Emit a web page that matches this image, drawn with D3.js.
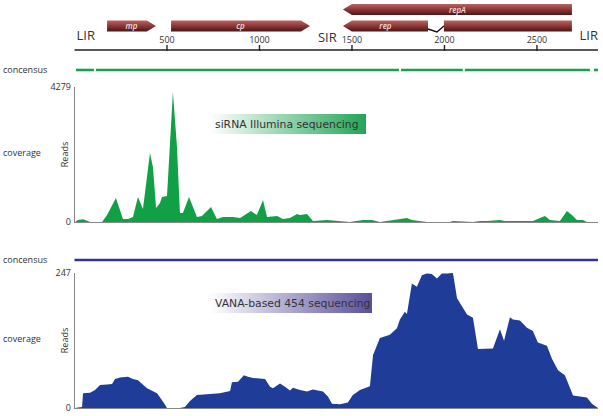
<!DOCTYPE html>
<html><head><meta charset="utf-8">
<script src="https://cdn.jsdelivr.net/npm/d3@7"></script>
<style>body{margin:0;background:#fff}svg{display:block}</style>
</head><body>
<svg id="c" width="603" height="416"></svg>
<script>
// ---- data ----
const genomeLength = 2830;
const genomeTicks = [500, 1000, 1500, 2000, 2500];
const regionLabels = [{name:"LIR", pos:0, anchor:"start"}, {name:"SIR", pos:1305, anchor:"start"}, {name:"LIR", pos:2830, anchor:"end"}];
const genes = [
  {name:"mp",   row:1, strand:1,  exons:[[176,440]]},
  {name:"cp",   row:1, strand:1,  exons:[[522,1273]]},
  {name:"repA", row:0, strand:-1, exons:[[1451,2689]]},
  {name:"rep",  row:1, strand:-1, exons:[[1451,1911],[1997,2689]]}
];
const siConsensus = [[8,105],[116,1754],[1765,2099],[2110,2786],[2808,2830]];
const vanaConsensus = [[0,2830]];
const siMax = 4279, vanaMax = 247;
const siPos   = [3,19,46,68,84,149,176,224,262,289,316,343,370,408,424,441,462,473,500,505,532,554,570,586,619,662,689,738,770,803,857,895,954,986,1019,1041,1095,1127,1165,1203,1219,1257,1289,1365,1489,1559,1608,1651,1797,1824,1905,2030,2046,2154,2192,2230,2300,2327,2478,2543,2570,2624,2662,2689,2716,2749,2770,2830];
const siReads = [0,63,86,41,0,0,222,761,95,95,159,793,412,2187,1744,444,602,793,824,1331,4121,2378,285,285,793,159,190,476,95,159,159,127,349,222,697,159,190,95,127,254,222,254,32,63,0,63,63,0,127,63,0,0,32,0,32,32,63,32,32,190,63,32,349,222,63,63,0,0];
const vanaPos   = [3,19,41,46,84,111,138,176,203,219,246,289,316,343,392,446,478,500,570,597,624,662,786,841,851,884,916,938,965,1030,1057,1073,1111,1138,1165,1181,1219,1257,1289,1343,1370,1392,1435,1478,1505,1543,1597,1614,1651,1705,1743,1759,1786,1797,1824,1851,1878,1905,1932,1959,1986,2014,2046,2068,2122,2154,2181,2262,2300,2322,2354,2370,2408,2446,2478,2505,2554,2581,2614,2651,2695,2770,2797,2830];
const vanaReads = [0,1,2,27,28,33,42,43,44,53,56,57,53,51,36,27,12,0,0,2,13,24,27,31,47,48,60,57,55,53,39,36,45,39,32,37,33,30,34,30,21,8,7,10,24,33,40,97,128,134,146,162,176,172,228,222,243,246,245,237,246,246,247,201,171,165,108,109,144,123,166,162,160,147,141,120,114,90,69,60,23,19,8,0];

// ---- drawing ----
const svg = d3.select("#c");
const font = "'Open Sans', 'DejaVu Sans', sans-serif";
const x = d3.scaleLinear().domain([0, genomeLength]).range([74.5, 598]);

const defs = svg.append("defs");
const gg = defs.append("linearGradient").attr("id","geneGrad").attr("x1",0).attr("y1",0).attr("x2",0).attr("y2",1);
gg.append("stop").attr("offset","0%").attr("stop-color","#b96464");
gg.append("stop").attr("offset","45%").attr("stop-color","#933a3a");
gg.append("stop").attr("offset","100%").attr("stop-color","#4a1515");
const lg1 = defs.append("linearGradient").attr("id","siBox");
lg1.append("stop").attr("offset","0%").attr("stop-color","#ffffff");
lg1.append("stop").attr("offset","100%").attr("stop-color","#22a557");
const lg2 = defs.append("linearGradient").attr("id","vanaBox");
lg2.append("stop").attr("offset","0%").attr("stop-color","#ffffff");
lg2.append("stop").attr("offset","100%").attr("stop-color","#5a4f9c");

// genome axis
const axisY = 50;
svg.append("line").attr("x1", x(0)).attr("x2", x(genomeLength)).attr("y1", axisY).attr("y2", axisY)
  .attr("stroke","#222").attr("stroke-width",1.6);
svg.selectAll(".gt").data(genomeTicks).join("line")
  .attr("x1", d=>x(d)).attr("x2", d=>x(d)).attr("y1", axisY-5).attr("y2", axisY+1)
  .attr("stroke","#222").attr("stroke-width",1.4);
svg.selectAll(".gtl").data(genomeTicks).join("text")
  .attr("x", d=>x(d)).attr("y", axisY-7).attr("text-anchor","middle")
  .attr("font-family",font).attr("font-size",9).attr("fill","#333").text(d=>d);
svg.selectAll(".rl").data(regionLabels).join("text")
  .attr("x", d=>x(d.pos) + (d.anchor==="start"?2:0)).attr("y", d=> d.name==="SIR"?42:40)
  .attr("text-anchor", d=>d.anchor).attr("font-family",font).attr("font-size",13).attr("fill","#333").text(d=>d.name);

// genes
const rowTop = [4, 20.5], gh = 11, head = 9;
genes.forEach(g => {
  const y0 = rowTop[g.row], y1 = y0 + gh, ym = y0 + gh/2;
  g.exons.forEach((e, i) => {
    let a = x(e[0]), b = x(e[1]);
    let pts;
    if (g.strand === 1 && i === g.exons.length-1) {
      pts = [[a,y0],[b-head,y0],[b,ym],[b-head,y1],[a,y1]];
    } else if (g.strand === -1 && i === 0) {
      pts = [[a,ym],[a+head,y0],[b,y0],[b,y1],[a+head,y1]];
    } else {
      pts = [[a,y0],[b,y0],[b,y1],[a,y1]];
    }
    svg.append("path").attr("d", d3.line()(pts) + "Z").attr("fill","url(#geneGrad)");
  });
  for (let i = 0; i < g.exons.length-1; i++) {
    const a = x(g.exons[i][1]), b = x(g.exons[i+1][0]);
    svg.append("path").attr("d", d3.line()([[a, y1-2.5],[(a+b)/2+1, y1+0.5],[b, y0+5.5]]))
      .attr("fill","none").attr("stroke","#111").attr("stroke-width",1.4);
  }
  const e0 = g.exons[0];
  svg.append("text").attr("x", (x(e0[0])+x(e0[1]))/2).attr("y", ym+3)
    .attr("text-anchor","middle").attr("font-family",font).attr("font-size",8).attr("font-style","italic")
    .attr("font-weight","600").attr("fill","#f4dede").text(g.name);
});

// panel function
function panel(cfg) {
  const y = d3.scaleLinear().domain([0, cfg.max]).range([cfg.base, cfg.top]);
  // consensus
  svg.append("text").attr("x",3).attr("y",cfg.consY+3).attr("font-family",font).attr("font-size",9).attr("fill","#333").text("concensus");
  svg.selectAll(null).data(cfg.cons).join("line")
    .attr("x1", d=>x(d[0])).attr("x2", d=>x(d[1])).attr("y1", cfg.consY).attr("y2", cfg.consY)
    .attr("stroke", cfg.consColor).attr("stroke-width", 2.6);
  // labels
  svg.append("text").attr("x",3).attr("y",(cfg.base+cfg.top)/2+1).attr("font-family",font).attr("font-size",9).attr("fill","#333").text("coverage");
  svg.append("text").attr("transform",`translate(68,${(cfg.base+cfg.top)/2})rotate(-90)`).attr("text-anchor","middle")
    .attr("font-family",font).attr("font-size",9).attr("fill","#333").text("Reads");
  svg.append("text").attr("x",71).attr("y",cfg.top+3).attr("text-anchor","end").attr("font-family",font).attr("font-size",9).attr("fill","#333").text(cfg.max);
  svg.append("text").attr("x",71).attr("y",cfg.base+3).attr("text-anchor","end").attr("font-family",font).attr("font-size",9).attr("fill","#333").text(0);
  // area
  const data = cfg.pos.map((p,i)=>[p, cfg.reads[i]]);
  svg.append("path").datum(data)
    .attr("d", d3.area().x(d=>x(d[0])).y0(y(0)).y1(d=>y(d[1])))
    .attr("fill", cfg.color);
  // axes lines
  svg.append("line").attr("x1",x(0)).attr("x2",x(0)).attr("y1",cfg.top).attr("y2",cfg.base+1).attr("stroke","#888").attr("stroke-width",1);
  svg.append("line").attr("x1",x(0)).attr("x2",x(genomeLength)).attr("y1",cfg.base+0.5).attr("y2",cfg.base+0.5).attr("stroke","#888").attr("stroke-width",1);
  // label box
  svg.append("rect").attr("x",cfg.box[0]).attr("y",cfg.box[1]).attr("width",cfg.box[2]).attr("height",cfg.box[3]).attr("fill",cfg.boxFill);
  svg.append("text").attr("x",cfg.box[0]+5).attr("y",cfg.box[1]+cfg.box[3]/2+4)
    .attr("font-family","'DejaVu Sans', Verdana, sans-serif").attr("font-size",10.8).attr("fill","#333").text(cfg.title);
}

panel({max:siMax, base:222, top:87, consY:70, cons:siConsensus, consColor:"#17a052", color:"#12a047",
  pos:siPos, reads:siReads, box:[210,114,156,20], boxFill:"url(#siBox)", title:"siRNA Illumina sequencing"});
panel({max:vanaMax, base:408, top:273, consY:260, cons:vanaConsensus, consColor:"#33339a", color:"#1f3d98",
  pos:vanaPos, reads:vanaReads, box:[210,293,162,20], boxFill:"url(#vanaBox)", title:"VANA-based 454 sequencing"});
</script>
</body></html>
